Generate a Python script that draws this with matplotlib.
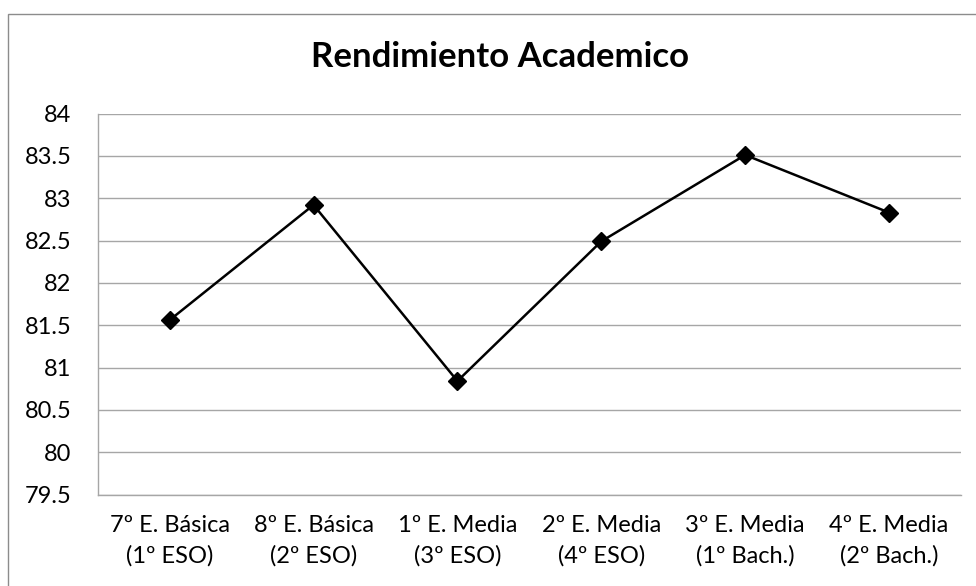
import matplotlib
matplotlib.use("Agg")
import matplotlib.pyplot as plt
from matplotlib.patches import Rectangle

categories = ["7º E. Básica\n(1º ESO)", "8º E. Básica\n(2º ESO)", "1º E. Media\n(3º ESO)",
              "2º E. Media\n(4º ESO)", "3º E. Media\n(1º Bach.)", "4º E. Media\n(2º Bach.)"]
values = [81.56, 82.92, 80.84, 82.49, 83.51, 82.83]
yticks = [79.5, 80, 80.5, 81, 81.5, 82, 82.5, 83, 83.5, 84]
title = "Rendimiento Academico"

plt.rcParams['font.family'] = ['Lato', 'DejaVu Sans']

W, H = 976, 586
fig = plt.figure(figsize=(W / 100, H / 100), dpi=100)
ax = fig.add_axes([97.7 / W, 1 - 494.5 / H, (961 - 97.7) / W, (494.5 - 113.5) / H])

x = list(range(len(categories)))
ax.plot(x, values, color='black', linewidth=1.8, marker='D', markersize=9,
        markerfacecolor='black', markeredgecolor='black', zorder=3)

ax.set_xlim(-0.5, len(categories) - 0.5)
ax.set_ylim(79.5, 84)
ax.set_yticks(yticks)
ax.set_yticklabels([f"{t:g}" for t in yticks])
ax.set_xticks(x)
ax.set_xticklabels(categories, linespacing=1.5)

ax.yaxis.grid(True, color='#a6a6a6', linewidth=1.0)
ax.set_axisbelow(True)
for s in ['top', 'right']:
    ax.spines[s].set_visible(False)
for s in ['left', 'bottom']:
    ax.spines[s].set_color('#a6a6a6')
    ax.spines[s].set_linewidth(1.0)
ax.tick_params(axis='both', length=0, labelsize=17, colors='black')
ax.tick_params(axis='y', pad=19)
ax.tick_params(axis='x', pad=15)

fig.text(500 / W, 1 - 57 / H, title, ha='center', va='center', fontsize=25,
         fontweight='bold')

fig.patches.append(Rectangle((8 / W, -0.1), 1.1, 1 - 14 / H + 0.1, transform=fig.transFigure,
                             fill=False, edgecolor='#8c8c8c', linewidth=1.0))

fig.savefig("out.png", dpi=100)
